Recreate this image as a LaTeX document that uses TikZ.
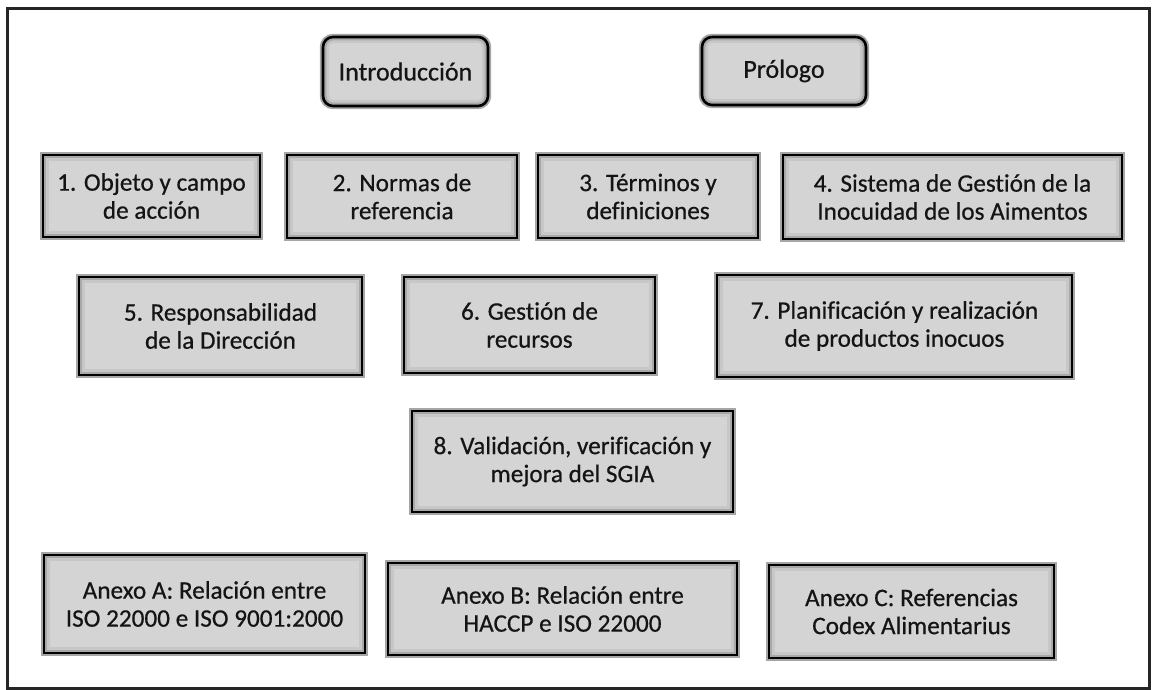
\documentclass[tikz,border=0pt]{standalone}
\usepackage{fontspec}
\setmainfont{Carlito}
\newfontfamily\boxfont{Carlito}[FakeBold=0.6, Ligatures=NoCommon]
\definecolor{boxgray}{RGB}{212,212,212}
\definecolor{txt}{RGB}{20,20,20}
\tikzset{
  x=0.5pt, y=-0.5pt,
  box/.style={draw=black, line width=1.3pt, fill=boxgray, align=center, inner sep=0pt,
    text=txt, font=\boxfont\fontsize{12.6}{14}\selectfont,
    preaction={draw=black!35, line width=3.2pt},
    path picture={
      \draw[black!22, line width=6pt] (path picture bounding box.south west) rectangle (path picture bounding box.north east);
      \draw[black!34, line width=3.4pt] (path picture bounding box.south west) rectangle (path picture bounding box.north east);
    }},
  rbox/.style={box, rounded corners=5pt, font=\boxfont\fontsize{13}{15}\selectfont}
}
\begin{document}
\begin{tikzpicture}
\useasboundingbox (0,0) rectangle (1152,690);
\draw[line width=1.5pt, black!85] (7,9) rectangle (1149,688);

\node[rbox, minimum width=82.5pt, minimum height=34.5pt] (intro) at (405.5,71.5) {Introducción};
\node[rbox, minimum width=82pt, minimum height=34pt] (prologo) at (784,71) {Prólogo};

\node[box, minimum width=108.5pt, minimum height=41pt] (b1) at (151.5,196) {1. Objeto y campo\\de acción};
\node[box, minimum width=115pt, minimum height=41.5pt] (b2) at (402,196.5) {2. Normas de\\referencia};
\node[box, minimum width=110pt, minimum height=41.5pt] (b3) at (648,196.5) {3. Términos y\\definiciones};
\node[box, minimum width=169.5pt, minimum height=42pt] (b4) at (952.5,197) {4. Sistema de Gest\kern0ptión de la\\Inocuidad de los Aimentos};

\node[box, minimum width=141.5pt, minimum height=49pt] (b5) at (220.5,326) {5. Responsabilidad\\de la Dirección};
\node[box, minimum width=125.5pt, minimum height=48pt] (b6) at (529.5,325) {6. Gest\kern0ptión de\\recursos};
\node[box, minimum width=177.5pt, minimum height=51pt] (b7) at (894.5,326) {7. Planificación y realización\\de productos inocuos};

\node[box, minimum width=160.5pt, minimum height=50.5pt] (b8) at (572.5,461.5) {8. Validación, verificación y\\mejora del SGIA};

\node[box, minimum width=160.5pt, minimum height=49pt] (anA) at (204.5,604) {Anexo A: Relación entre\\ISO 22000 e ISO 9001:2000};
\node[box, minimum width=174.5pt, minimum height=46pt] (anB) at (562.5,609) {Anexo B: Relación entre\\HACCP e ISO 22000};
\node[box, minimum width=142.5pt, minimum height=46.5pt] (anC) at (911.5,611.5) {Anexo C: Referencias\\Codex Alimentarius};
\end{tikzpicture}
\end{document}
